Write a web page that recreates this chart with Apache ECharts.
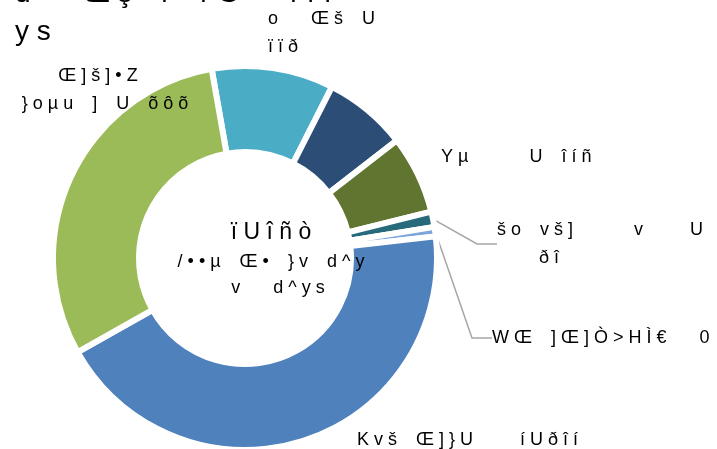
<!DOCTYPE html>
<html>
<head>
<meta charset="utf-8">
<script src="https://cdn.jsdelivr.net/npm/echarts@6/dist/echarts.min.js"></script>
<style>
html, body { margin: 0; padding: 0; background: #fff; }
#main { width: 717px; height: 449px; }
</style>
</head>
<body>
<div id="main"></div>
<script>
var myChart = echarts.init(document.getElementById('main'));

// slices, clockwise from the top ('_' = a glyph that did not print)
var names = [
    'o__Œš_U\nïïð',
    '',
    'Yµ____U_îíñ',
    'šo_vš]____v___U\n___ðî',
    'WŒ_]Œ]Ò>HÌ€__0',
    'Kvš_Œ]}U___íUðîí',
    'Œ]š]•Z_\n}oµu_]_U_õôõ'
];
var values = [334, 229, 215, 42, 26, 1421, 989];
var colors = ['#4BACC6', '#2C4D75', '#5F7530', '#276A7C', '#7EA6DC', '#4F81BD', '#9BBB59'];

var titleText = 'd__Œş_r_rG__rrr\nys';
var totalText = 'ïUîñò';
var subText = '/••µ_Œ•_}v_d^y\n_v__d^ys';

// the glyphs print spread out, so put a gap after each one
function spread(s) {
    return s.split('\n').map(function (line) {
        return line.split('').map(function (c) {
            return c === '_' ? '\u2002' : c;
        }).join(' ');
    }).join('\n');
}

// where each label sits (left edge / centre, middle)
var labelPos = [
    { x: 268, y: 33, align: 'left' },
    null,
    { x: 441, y: 157, align: 'left' },
    { x: 497, y: 244, align: 'left' },
    { x: 492, y: 338, align: 'left' },
    { x: 357, y: 440, align: 'left' },
    { x: 105, y: 90, align: 'center' }
];

var seriesData = values.map(function (v, i) {
    return {
        name: spread(names[i]),
        value: v,
        itemStyle: { color: colors[i] },
        label: { show: names[i] !== '' },
        labelLine: { show: i === 3 || i === 4 }
    };
});

option = {
    title: {
        text: spread(titleText),
        left: 10,
        top: -30,
        textStyle: {
            fontFamily: 'Liberation Sans',
            fontSize: 28,
            fontWeight: 'normal',
            color: '#000',
            lineHeight: 38
        }
    },
    graphic: [
        {
            type: 'text',
            z: 100,
            style: {
                text: spread(totalText),
                x: 271,
                y: 233,
                align: 'center',
                verticalAlign: 'middle',
                font: '23px "Liberation Sans"',
                fill: '#000'
            }
        },
        {
            type: 'text',
            z: 100,
            style: {
                text: spread(subText),
                x: 271,
                y: 275,
                align: 'center',
                verticalAlign: 'middle',
                font: '18px "Liberation Sans"',
                lineHeight: 26,
                fill: '#000'
            }
        }
    ],
    series: [
        {
            type: 'pie',
            center: [245, 258],
            radius: [106, 192],
            startAngle: 100,
            animation: false,
            itemStyle: {
                borderColor: '#fff',
                borderWidth: 6
            },
            label: {
                position: 'outside',
                formatter: '{b}',
                fontFamily: 'Liberation Sans',
                fontSize: 18,
                color: '#000',
                lineHeight: 28,
                overflow: 'none'
            },
            labelLine: {
                length: 20,
                length2: 20,
                lineStyle: { color: '#A6A6A6', width: 1.5 }
            },
            labelLayout: function (params) {
                var p = labelPos[params.dataIndex];
                if (!p) return {};
                return { x: p.x, y: p.y, align: p.align, verticalAlign: 'middle' };
            },
            data: seriesData
        }
    ]
};

myChart.setOption(option);

window.onresize = function () {
    myChart.resize();
};
</script>
</body>
</html>
